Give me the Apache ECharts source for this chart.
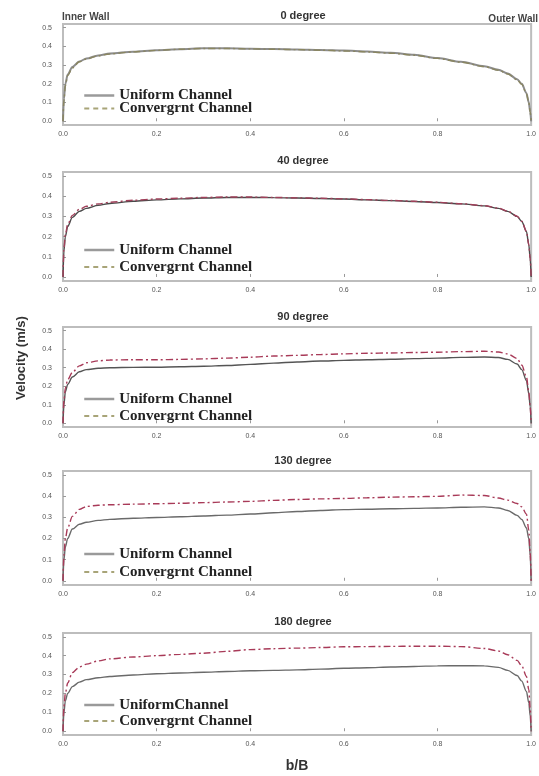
<!DOCTYPE html>
<html>
<head>
<meta charset="utf-8">
<script src="https://cdn.jsdelivr.net/npm/echarts@6/dist/echarts.min.js"></script>
<style>
  html, body { margin: 0; padding: 0; background: #fff; }
  #chart { width: 539px; height: 776px; }
</style>
</head>
<body>
<div id="chart"></div>
<script>
// Dimensionless position across the channel, b/B
var bB = [0, 0.002, 0.005, 0.01, 0.02, 0.035, 0.05, 0.075, 0.1, 0.15, 0.2, 0.25, 0.3, 0.35, 0.4, 0.45, 0.5,
          0.55, 0.6, 0.65, 0.7, 0.75, 0.8, 0.85, 0.9, 0.93, 0.95, 0.97, 0.98, 0.99, 0.995, 0.998, 1.0];

// Velocity profiles (m/s) at each bend angle
var uniform0 = [0, 0.12, 0.2, 0.25, 0.29, 0.32, 0.335, 0.352, 0.362, 0.372, 0.38, 0.385, 0.39, 0.39, 0.388, 0.386, 0.384,
                0.381, 0.378, 0.373, 0.366, 0.355, 0.338, 0.318, 0.294, 0.275, 0.255, 0.225, 0.2, 0.15, 0.1, 0.05, 0];
var convergent0 = [0, 0.11, 0.19, 0.245, 0.285, 0.318, 0.333, 0.35, 0.36, 0.371, 0.379, 0.385, 0.389, 0.389, 0.387, 0.385, 0.383,
                   0.38, 0.376, 0.371, 0.364, 0.353, 0.336, 0.316, 0.292, 0.273, 0.253, 0.222, 0.197, 0.148, 0.1, 0.05, 0];

var uniform40 = [0, 0.13, 0.2, 0.25, 0.295, 0.325, 0.34, 0.355, 0.364, 0.375, 0.382, 0.387, 0.391, 0.394, 0.394, 0.393, 0.391,
                 0.389, 0.386, 0.382, 0.378, 0.374, 0.369, 0.362, 0.352, 0.34, 0.325, 0.3, 0.275, 0.225, 0.16, 0.09, 0];
var convergent40 = [0, 0.14, 0.21, 0.26, 0.305, 0.335, 0.35, 0.362, 0.37, 0.38, 0.386, 0.39, 0.394, 0.396, 0.396, 0.394, 0.392,
                    0.39, 0.387, 0.383, 0.379, 0.375, 0.37, 0.363, 0.353, 0.341, 0.326, 0.301, 0.276, 0.226, 0.16, 0.09, 0];

var uniform90 = [0, 0.1, 0.17, 0.21, 0.25, 0.278, 0.29, 0.297, 0.3, 0.302, 0.303, 0.305, 0.308, 0.312, 0.318, 0.325, 0.331,
                 0.336, 0.34, 0.343, 0.346, 0.349, 0.352, 0.356, 0.358, 0.355, 0.345, 0.32, 0.29, 0.23, 0.16, 0.09, 0];
var convergent90 = [0, 0.12, 0.19, 0.235, 0.275, 0.31, 0.327, 0.337, 0.342, 0.343, 0.343, 0.345, 0.348, 0.352, 0.357, 0.363, 0.367,
                    0.371, 0.375, 0.378, 0.38, 0.382, 0.384, 0.387, 0.389, 0.385, 0.375, 0.35, 0.315, 0.25, 0.17, 0.09, 0];

var uniform130 = [0, 0.1, 0.16, 0.2, 0.245, 0.268, 0.277, 0.286, 0.291, 0.296, 0.3, 0.303, 0.307, 0.311, 0.316, 0.322, 0.328,
                  0.333, 0.337, 0.339, 0.341, 0.343, 0.345, 0.348, 0.35, 0.345, 0.333, 0.31, 0.29, 0.25, 0.2, 0.12, 0];
var convergent130 = [0, 0.12, 0.2, 0.25, 0.305, 0.338, 0.352, 0.358, 0.36, 0.363, 0.365, 0.367, 0.37, 0.373, 0.376, 0.381, 0.385,
                     0.388, 0.39, 0.393, 0.396, 0.398, 0.4, 0.406, 0.404, 0.392, 0.382, 0.366, 0.35, 0.315, 0.24, 0.13, 0];

var uniform180 = [0, 0.1, 0.16, 0.2, 0.236, 0.26, 0.273, 0.283, 0.29, 0.298, 0.304, 0.308, 0.312, 0.316, 0.32, 0.322, 0.325,
                  0.329, 0.333, 0.336, 0.34, 0.343, 0.346, 0.347, 0.346, 0.338, 0.322, 0.295, 0.265, 0.21, 0.15, 0.08, 0];
var convergent180 = [0, 0.13, 0.2, 0.255, 0.31, 0.34, 0.355, 0.372, 0.383, 0.393, 0.4, 0.407, 0.413, 0.423, 0.432, 0.437, 0.44,
                     0.443, 0.447, 0.448, 0.449, 0.45, 0.45, 0.448, 0.438, 0.425, 0.405, 0.375, 0.346, 0.29, 0.22, 0.12, 0];

var panelTitles = ['0 degree', '40 degree', '90 degree', '130 degree', '180 degree'];
var uniformNames = ['Uniform Channel', 'Uniform Channel', 'Uniform Channel', 'Uniform Channel', 'UniformChannel'];
var convergentNames = ['Convergrnt Channel', 'Convergrnt Channel', 'Convergrnt Channel', 'Convergrnt Channel', 'Convergrnt Channel'];
var yTicks = [0, 0.1, 0.2, 0.3, 0.4, 0.5];

var uniformSets = [uniform0, uniform40, uniform90, uniform130, uniform180];
var convergentSets = [convergent0, convergent40, convergent90, convergent130, convergent180];

// Layout of the stacked panels
var panelBoxes = [
  { top: 24, height: 101, titleY: 16, legendTop: 83, legendGap: -2 },
  { top: 172, height: 109, titleY: 161, legendTop: 237.5, legendGap: 2 },
  { top: 327, height: 100, titleY: 317, legendTop: 386.5, legendGap: 2 },
  { top: 471, height: 114, titleY: 461, legendTop: 541.5, legendGap: 3 },
  { top: 633, height: 102, titleY: 622, legendTop: 692.5, legendGap: 1 }
];
var uniformColors = ['#8c8c8c', '#4a4a4a', '#555555', '#6a6a6a', '#6a6a6a'];
var convergentColors = ['#8a8660', '#a0405a', '#a83a58', '#a83a58', '#a83a58'];

function pairs(xs, ys) {
  return xs.map(function (x, i) { return [x, ys[i]]; });
}

var labelFont = 'Liberation Sans';
var grids = [], xAxes = [], yAxes = [], series = [], legends = [], texts = [];

panelBoxes.forEach(function (p, i) {
  grids.push({
    left: 63, width: 472, top: p.top, height: p.height,
    show: true, borderColor: '#bdbdbd', borderWidth: 2, backgroundColor: '#fff'
  });
  xAxes.push({
    type: 'value', gridIndex: i, min: 0, max: 1, interval: 0.2,
    axisLine: { show: false },
    splitLine: { show: false },
    axisTick: { inside: true, length: 3, lineStyle: { color: '#999' } },
    axisLabel: {
      margin: 6, fontSize: 7, color: '#555', fontFamily: labelFont,
      formatter: function (v) { return v.toFixed(1); }
    }
  });
  yAxes.push({
    type: 'value', gridIndex: i, min: -0.02, max: 0.52,
    axisLine: { show: false },
    splitLine: { show: false },
    axisTick: { inside: true, length: 3, customValues: yTicks, lineStyle: { color: '#999' } },
    axisLabel: {
      margin: 11, fontSize: 7, color: '#555', fontFamily: labelFont,
      customValues: yTicks,
      formatter: function (v) { return v.toFixed(1); }
    }
  });
  series.push({
    name: uniformNames[i], type: 'line', xAxisIndex: i, yAxisIndex: i,
    data: pairs(bB, uniformSets[i]), showSymbol: false, symbol: 'none',
    smooth: 0.3, smoothMonotone: 'x',
    lineStyle: { color: uniformColors[i], width: i === 0 ? 2 : 1.4 },
    itemStyle: { color: uniformColors[i] }, z: 2
  });
  series.push({
    name: convergentNames[i], type: 'line', xAxisIndex: i, yAxisIndex: i,
    data: pairs(bB, convergentSets[i]), showSymbol: false, symbol: 'none',
    smooth: 0.3, smoothMonotone: 'x',
    lineStyle: { color: convergentColors[i], width: 1.4, type: [7, 3, 2, 3] },
    itemStyle: { color: convergentColors[i] }, z: 3
  });
  legends.push({
    orient: 'vertical', left: 78, top: p.legendTop,
    itemWidth: 30, itemHeight: 10, itemGap: p.legendGap,
    selectedMode: false,
    textStyle: {
      fontFamily: 'Liberation Serif', fontWeight: 'bold', fontSize: 15,
      color: '#222', lineHeight: 11
    },
    data: [
      { name: uniformNames[i],
        itemStyle: { color: 'rgba(0,0,0,0)', opacity: 0, borderWidth: 0 },
        lineStyle: { color: '#9a9a9a', width: 2.5, type: 'solid' } },
      { name: convergentNames[i],
        itemStyle: { color: 'rgba(0,0,0,0)', opacity: 0, borderWidth: 0 },
        lineStyle: { color: '#a8a478', width: 1.8, type: [5, 4] } }
    ]
  });
  texts.push({
    type: 'text', x: 303, y: p.titleY,
    style: { text: panelTitles[i], fill: '#333', fontSize: 11, fontWeight: 'bold',
      fontFamily: labelFont, align: 'center', verticalAlign: 'middle' }
  });
});

texts.push({ type: 'text', x: 62, y: 17,
  style: { text: 'Inner Wall', fill: '#444', fontSize: 10, fontWeight: 'bold',
    fontFamily: labelFont, align: 'left', verticalAlign: 'middle' } });
texts.push({ type: 'text', x: 538, y: 19,
  style: { text: 'Outer Wall', fill: '#444', fontSize: 10, fontWeight: 'bold',
    fontFamily: labelFont, align: 'right', verticalAlign: 'middle' } });
texts.push({ type: 'text', x: 297, y: 766,
  style: { text: 'b/B', fill: '#333', fontSize: 14, fontWeight: 'bold',
    fontFamily: labelFont, align: 'center', verticalAlign: 'middle' } });
texts.push({ type: 'text', x: 21, y: 358, rotation: Math.PI / 2,
  style: { text: 'Velocity (m/s)', fill: '#333', fontSize: 13, fontWeight: 'bold',
    fontFamily: labelFont, align: 'center', verticalAlign: 'middle' } });

var chart = echarts.init(document.getElementById('chart'), null, { renderer: 'canvas' });
chart.setOption({
  animation: false,
  backgroundColor: '#fff',
  grid: grids,
  xAxis: xAxes,
  yAxis: yAxes,
  legend: legends,
  series: series,
  graphic: texts
});
</script>
</body>
</html>
